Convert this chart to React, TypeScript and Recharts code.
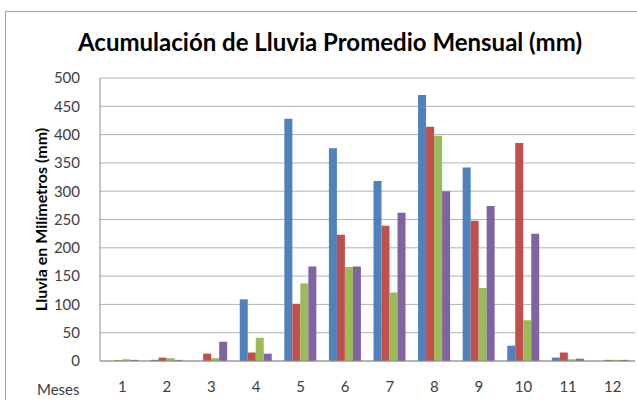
import React from "react";
import { BarChart, Bar, XAxis, YAxis, CartesianGrid } from "recharts";

const months = ["1", "2", "3", "4", "5", "6", "7", "8", "9", "10", "11", "12"];
const serie1 = [0, 2, 0, 109, 428, 376, 318, 470, 342, 27, 6, 0];
const serie2 = [1, 6, 13, 15, 101, 223, 239, 414, 248, 385, 15, 2];
const serie3 = [3, 5, 5, 41, 137, 166, 121, 398, 129, 72, 3, 2];
const serie4 = [2, 2, 34, 13, 167, 167, 262, 300, 274, 225, 4, 2];
const yTicks = [0, 50, 100, 150, 200, 250, 300, 350, 400, 450, 500];

const data = months.map((m, i) => ({
  mes: m,
  s1: serie1[i],
  s2: serie2[i],
  s3: serie3[i],
  s4: serie4[i],
}));

const FONT = "Lato, 'Open Sans', sans-serif";

const App: React.FC = () => (
  <div
    style={{
      position: "absolute",
      left: 0,
      top: 0,
      width: 637,
      height: 400,
      overflow: "hidden",
      background: "#fff",
      fontFamily: FONT,
    }}
  >
    <div
      style={{
        position: "absolute",
        left: 5,
        top: 11,
        width: 700,
        height: 500,
        border: "1.5px solid #a6a6a6",
      }}
    />
    <div
      style={{
        position: "absolute",
        left: 0,
        top: 27,
        width: 660,
        textAlign: "center",
        fontSize: 24,
        fontWeight: 700,
        color: "#000",
      }}
    >
      Acumulación de Lluvia Promedio Mensual (mm)
    </div>
    <div
      style={{
        position: "absolute",
        left: 37,
        top: 380,
        fontSize: 15,
        color: "#404040",
      }}
    >
      Meses
    </div>
    <div style={{ position: "absolute", left: 0, top: 0 }}>
      <BarChart
        width={637}
        height={400}
        data={data}
        margin={{ top: 78, right: 2, bottom: 0, left: 0 }}
        barGap={0}
      >
        <CartesianGrid vertical={false} stroke="#b3b3b3" />
        <XAxis
          dataKey="mes"
          height={39}
          tickLine={false}
          stroke="#8c8c8c"
          tickMargin={14}
          tick={{ fill: "#404040", fontSize: 15, fontFamily: FONT }}
        />
        <YAxis
          width={100}
          domain={[0, 500]}
          ticks={yTicks}
          tickLine={false}
          stroke="#8c8c8c"
          tickMargin={14}
          tick={{ fill: "#404040", fontSize: 15, fontFamily: FONT }}
          label={{
            value: "Lluvia en Milímetros (mm)",
            angle: -90,
            position: "center",
            dx: -9,
            style: { fontSize: 16, fontWeight: 700, fill: "#000", fontFamily: FONT },
          }}
        />
        <Bar dataKey="s1" name="Serie 1" fill="#4F81BD" barSize={8} isAnimationActive={false} />
        <Bar dataKey="s2" name="Serie 2" fill="#C0504D" barSize={8} isAnimationActive={false} />
        <Bar dataKey="s3" name="Serie 3" fill="#9BBB59" barSize={8} isAnimationActive={false} />
        <Bar dataKey="s4" name="Serie 4" fill="#8064A2" barSize={8} isAnimationActive={false} />
      </BarChart>
    </div>
  </div>
);

export default App;
